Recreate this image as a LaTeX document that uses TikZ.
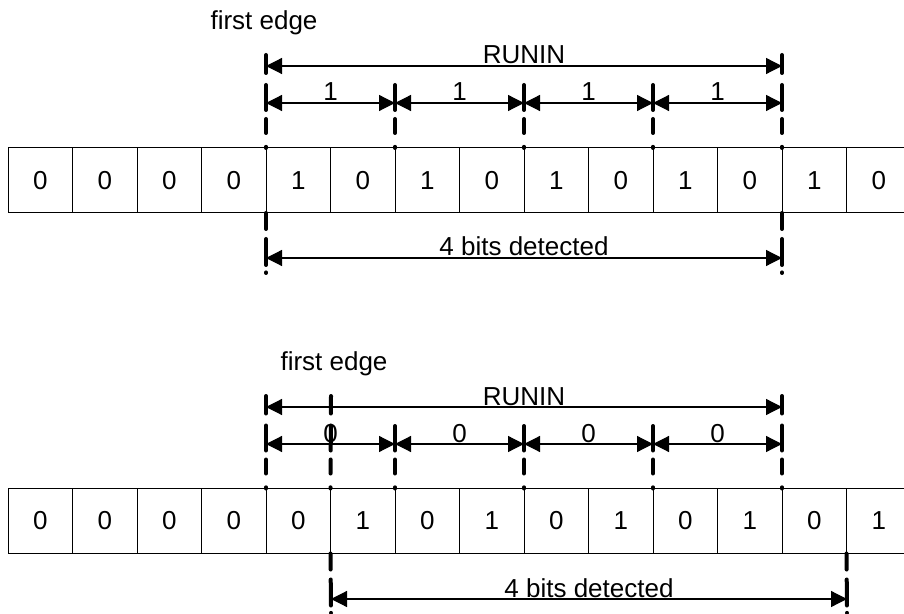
\documentclass[tikz,border=0pt]{standalone}
\usepackage{fontspec}
\setmainfont{Liberation Sans}
\usepackage{tikz}
\usetikzlibrary{arrows.meta}
\tikzstyle{cell} = [rectangle, minimum width=32.25pt, minimum height=32.5pt, inner sep=0pt, outer sep=0pt, text centered, draw=black, line width=0.5pt]
\tikzstyle{edgeup} = [line width=2pt, line cap=round, dash pattern=on 0.6pt off 6.9pt on 7pt off 4.5pt on 12.5pt off 6pt on 10pt off 20pt]
\tikzstyle{edgedown} = [line width=2pt, line cap=round, dash pattern=on 8pt off 5pt on 13pt off 3.7pt on 0.6pt off 20pt]
\tikzstyle{dim} = [line width=0.6pt, {Triangle[length=8pt,width=8pt]}-{Triangle[length=8pt,width=8pt]}]
\tikzstyle{dimtext} = [anchor=base, inner sep=0pt, yshift=1pt]

\begin{document}
\begin{tikzpicture}[x=0.5pt, y=-0.5pt, node distance=32.25pt, font=\fontsize{13pt}{15.6pt}\selectfont]
		\useasboundingbox (0,0) rectangle (904,614);
		% upper row
		\node (a1) [cell] at (40.25,180.5) {0};
		\node (a2) [cell,right of=a1] {0};
		\node (a3) [cell,right of=a2] {0};
		\node (a4) [cell,right of=a3] {0};
		\node (a5) [cell,right of=a4] {1};
		\node (a6) [cell,right of=a5] {0};
		\node (a7) [cell,right of=a6] {1};
		\node (a8) [cell,right of=a7] {0};
		\node (a9) [cell,right of=a8] {1};
		\node (a10) [cell,right of=a9] {0};
		\node (a11) [cell,right of=a10] {1};
		\node (a12) [cell,right of=a11] {0};
		\node (a13) [cell,right of=a12] {1};
		\node (a14) [cell,right of=a13] {0};
		\node (fe1) [dimtext] at (264,32) {first edge};
		\coordinate (ua) at (266,55);
		\coordinate (ub) at (395,85);
		\coordinate (uc) at (524,85);
		\coordinate (ud) at (653,85);
		\coordinate (ue) at (782,55);
		\coordinate (la) at (266,273);
		\coordinate (lb) at (782,273);
		\draw [edgeup] (a5.north west) -- (ua);
		\draw [edgeup] (a7.north west) -- (ub);
		\draw [edgeup] (a9.north west) -- (uc);
		\draw [edgeup] (a11.north west) -- (ud);
		\draw [edgeup] (a13.north west) -- (ue);
		\draw [edgedown] (a5.south west) -- (la);
		\draw [edgedown] (a13.south west) -- (lb);
		\coordinate (run1) at (266,66);
		\coordinate (run2) at (782,66);
		\coordinate (s1) at (266,103);
		\coordinate (s2) at (395,103);
		\coordinate (s3) at (524,103);
		\coordinate (s4) at (653,103);
		\coordinate (s5) at (782,103);
		\coordinate (det1) at (266,258);
		\coordinate (det2) at (782,258);
		\draw [dim] (run1) -- node[dimtext] {RUNIN} (run2);
		\draw [dim] (s1) -- node[dimtext] {1} (s2);
		\draw [dim] (s2) -- node[dimtext] {1} (s3);
		\draw [dim] (s3) -- node[dimtext] {1} (s4);
		\draw [dim] (s4) -- node[dimtext] {1} (s5);
		\draw [dim] (det1) -- node[dimtext] {4 bits detected} (det2);
		% lower row
		\node (b1) [cell] at (40.25,521) {0};
		\node (b2) [cell,right of=b1] {0};
		\node (b3) [cell,right of=b2] {0};
		\node (b4) [cell,right of=b3] {0};
		\node (b5) [cell,right of=b4] {0};
		\node (b6) [cell,right of=b5] {1};
		\node (b7) [cell,right of=b6] {0};
		\node (b8) [cell,right of=b7] {1};
		\node (b9) [cell,right of=b8] {0};
		\node (b10) [cell,right of=b9] {1};
		\node (b11) [cell,right of=b10] {0};
		\node (b12) [cell,right of=b11] {1};
		\node (b13) [cell,right of=b12] {0};
		\node (b14) [cell,right of=b13] {1};
		\node (fe2) [dimtext] at (334,373) {first edge};
		\coordinate (va) at (266,396);
		\coordinate (vf) at (331,396);
		\coordinate (vb) at (395,426);
		\coordinate (vc) at (524,426);
		\coordinate (vd) at (653,426);
		\coordinate (ve) at (782,396);
		\coordinate (ma) at (331,613);
		\coordinate (mb) at (847,613);
		\draw [edgeup] (b5.north west) -- (va);
		\draw [edgeup] (b6.north west) -- (vf);
		\draw [edgeup] (b7.north west) -- (vb);
		\draw [edgeup] (b9.north west) -- (vc);
		\draw [edgeup] (b11.north west) -- (vd);
		\draw [edgeup] (b13.north west) -- (ve);
		\draw [edgedown] (b6.south west) -- (ma);
		\draw [edgedown] (b14.south west) -- (mb);
		\coordinate (run3) at (266,407);
		\coordinate (run4) at (782,407);
		\coordinate (t1) at (266,444);
		\coordinate (t2) at (395,444);
		\coordinate (t3) at (524,444);
		\coordinate (t4) at (653,444);
		\coordinate (t5) at (782,444);
		\coordinate (det3) at (331,599);
		\coordinate (det4) at (847,599);
		\draw [dim] (run3) -- node[dimtext] {RUNIN} (run4);
		\draw [dim] (t1) -- node[dimtext] {0} (t2);
		\draw [dim] (t2) -- node[dimtext] {0} (t3);
		\draw [dim] (t3) -- node[dimtext] {0} (t4);
		\draw [dim] (t4) -- node[dimtext] {0} (t5);
		\draw [dim] (det3) -- node[dimtext] {4 bits detected} (det4);
	\end{tikzpicture}
\end{document}
